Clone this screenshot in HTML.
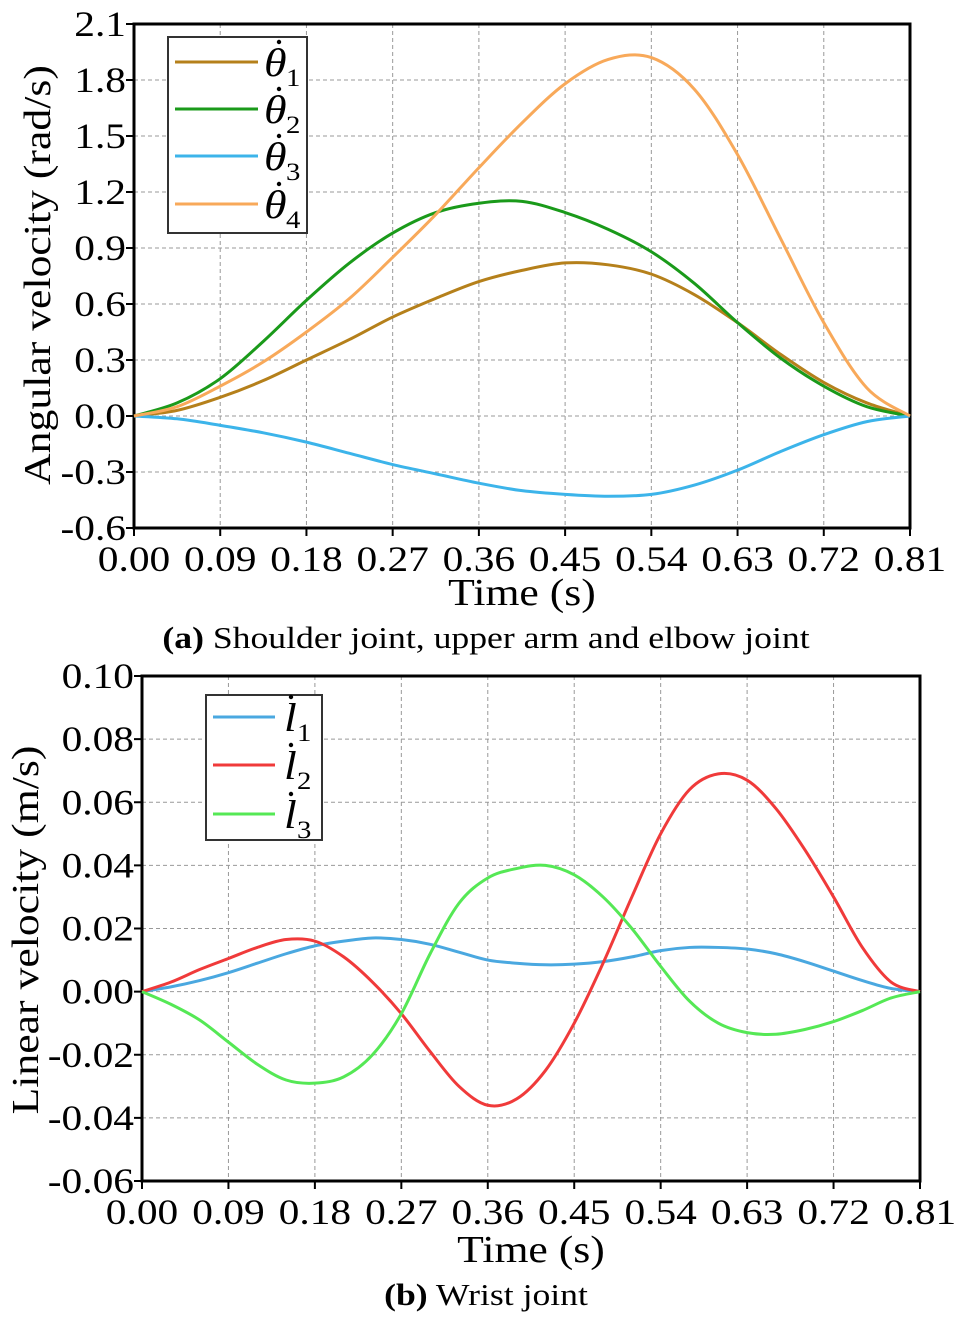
<!DOCTYPE html>
<html><head><meta charset="utf-8"><style>
body{margin:0;background:#fff;}
svg{display:block;font-family:"Liberation Serif",serif;}
</style></head><body>
<svg id="s" width="968" height="1321" viewBox="0 0 968 1321"></svg>
<script>
const timeTicks=["0.00","0.09","0.18","0.27","0.36","0.45","0.54","0.63","0.72","0.81"];
const aYTicks=["-0.6","-0.3","0.0","0.3","0.6","0.9","1.2","1.5","1.8","2.1"];
const bYTicks=["-0.06","-0.04","-0.02","0.00","0.02","0.04","0.06","0.08","0.10"];
const aT=[0,.045,.09,.135,.18,.225,.27,.315,.36,.405,.45,.495,.54,.585,.63,.675,.72,.765,.81];
const th1V=[0,.03,.1,.19,.3,.41,.53,.63,.72,.78,.82,.81,.76,.65,.5,.33,.18,.07,0];
const th2V=[0,.07,.2,.4,.62,.82,.98,1.09,1.14,1.15,1.09,1.0,.88,.71,.5,.31,.16,.05,0];
const th3V=[0,-.015,-.05,-.09,-.14,-.2,-.26,-.31,-.36,-.40,-.42,-.43,-.42,-.37,-.29,-.19,-.1,-.03,0];
const th4V=[0,.05,.16,.29,.45,.63,.85,1.08,1.33,1.57,1.78,1.91,1.92,1.75,1.4,.95,.5,.15,0];
const bT=[0,.03,.06,.09,.12,.15,.18,.21,.24,.27,.30,.33,.36,.39,.42,.45,.48,.51,.54,.57,.60,.63,.66,.69,.72,.75,.78,.81];
const l1V=[0,.0015,.0035,.006,.009,.012,.0145,.016,.017,.0165,.015,.0125,.01,.009,.0085,.0087,.0095,.011,.013,.014,.014,.0135,.012,.0095,.0065,.0035,.001,0];
const l2V=[0,.003,.007,.0105,.014,.0165,.016,.011,.003,-.007,-.019,-.03,-.036,-.034,-.025,-.01,.009,.03,.05,.064,.069,.067,.058,.045,.03,.014,.003,0];
const l3V=[0,-.004,-.009,-.016,-.023,-.028,-.029,-.027,-.02,-.007,.012,.028,.036,.039,.040,.037,.03,.02,.008,-.003,-.010,-.013,-.0135,-.012,-.0095,-.006,-.002,0];

const NS="http://www.w3.org/2000/svg";
const svg=document.getElementById('s');
const SX=1.15;
function mk(tag,attrs,parent){const e=document.createElementNS(NS,tag);for(const k in attrs)e.setAttribute(k,attrs[k]);(parent||svg).appendChild(e);return e;}
function txt(x,y,attrs,parent){return mk('text',Object.assign({x:0,y:0,transform:`translate(${x},${y}) scale(${SX},1)`},attrs),parent);}
function smooth(pts){let d=`M${pts[0][0]},${pts[0][1]}`;for(let i=0;i<pts.length-1;i++){const p0=pts[i-1]||pts[i],p1=pts[i],p2=pts[i+1],p3=pts[i+2]||p2;
const c1=[p1[0]+(p2[0]-p0[0])/6,p1[1]+(p2[1]-p0[1])/6],c2=[p2[0]-(p3[0]-p1[0])/6,p2[1]-(p3[1]-p1[1])/6];d+=`C${c1[0]},${c1[1]} ${c2[0]},${c2[1]} ${p2[0]},${p2[1]}`;}return d;}

function chart(cfg){
 const g=mk('g',{});
 
 
 const {x0,x1,y0,y1,ymin,ymax}=cfg;
 const X=t=>x0+(t-0)/(0.81)*(x1-x0);
 const Y=v=>y1-(v-ymin)/(ymax-ymin)*(y1-y0);
 timeTicks.forEach((lab,i)=>{const x=X(+lab);
  if(i>0&&i<timeTicks.length-1){const l=mk('line',{x1:x,x2:x,y1:y0,y2:y1,stroke:'#999','stroke-dasharray':'4,3','stroke-width':1},g);}
  mk('line',{x1:x,x2:x,y1:y1,y2:y1+8,stroke:'#000','stroke-width':2},g);
  const t=txt(x,y1+43,{'text-anchor':'middle','font-size':36},g);t.textContent=lab;
  
 });
 cfg.yt.forEach((lab,i)=>{const y=Y(+lab);
  if(i>0&&i<cfg.yt.length-1){const l=mk('line',{x1:x0,x2:x1,y1:y,y2:y,stroke:'#999','stroke-dasharray':'4,3','stroke-width':1},g);}
  mk('line',{x1:x0-8,x2:x0,y1:y,y2:y,stroke:'#000','stroke-width':2},g);
  const t=txt(x0-8,y+12,{'text-anchor':'end','font-size':36},g);t.textContent=lab;
  
 });
 const fr=mk('rect',{x:x0,y:y0,width:x1-x0,height:y1-y0,fill:'none',stroke:'#000','stroke-width':3},g);
 
 cfg.series.forEach(s=>{const pts=s.t.map((t,i)=>[X(t),Y(s.v[i])]);
  const p=mk('path',{d:smooth(pts),fill:'none',stroke:s.c,'stroke-width':3},g);
  });
 const xt=txt((x0+x1)/2,cfg.xtY,{'text-anchor':'middle','font-size':38},g);xt.textContent='Time (s)';
 
 const yt=mk('text',{x:0,y:0,transform:`translate(${cfg.ytX},${cfg.ytY}) rotate(-90) scale(${SX},1)`,'text-anchor':'middle','font-size':38},g);yt.textContent=cfg.ytitle;
 
 const cap=txt(cfg.capX,cfg.capY,{'text-anchor':'middle','font-size':31},g);
 const b=mk('tspan',{'font-weight':'bold'},cap);b.textContent=cfg.capB;
 const r=mk('tspan',{},cap);r.textContent=cfg.capR;
 
 const L=cfg.leg;
 const lg=mk('g',{},g);
 mk('rect',{x:L.x,y:L.y,width:L.w,height:L.h,fill:'#fff',stroke:'#333','stroke-width':2},lg);
 cfg.series.forEach((s,i)=>{const y=L.ly[i];
  const e=mk('g',{},lg);
  mk('line',{x1:L.lx0,x2:L.lx1,y1:y,y2:y,stroke:s.c,'stroke-width':3},e);
  const t=txt(L.tx,y+14,{'font-size':40,'font-style':'italic'},e);t.textContent=L.sym;
  mk('circle',{cx:L.tx+L.dotdx,cy:y-20,r:2.2,fill:'#000'},e);
  const sub=txt(L.tx+L.subdx,y+24,{'font-size':25},e);sub.textContent=String(i+1);
 });
}
chart({name:'chart-a',x0:134,x1:910,y0:24,y1:528,ymin:-0.6,ymax:2.1,yt:aYTicks,xtY:605,ytX:50,ytY:275,ytitle:'Angular velocity (rad/s)',
 capX:486,capY:648,capB:'(a)',capR:' Shoulder joint, upper arm and elbow joint',
 series:[{n:'theta1',t:aT,v:th1V,c:'#b5801b'},{n:'theta2',t:aT,v:th2V,c:'#1a9a1a'},{n:'theta3',t:aT,v:th3V,c:'#3cb4ea'},{n:'theta4',t:aT,v:th4V,c:'#f8a95a'}],
 leg:{x:168,y:37,w:139,h:196,ly:[62,109,156,204],lx0:175,lx1:258,tx:264,sym:'θ',dotdx:15,subdx:22}});
chart({name:'chart-b',x0:142,x1:920,y0:676,y1:1181,ymin:-0.06,ymax:0.10,yt:bYTicks,xtY:1262,ytX:38,ytY:930,ytitle:'Linear velocity (m/s)',
 capX:486,capY:1305,capB:'(b)',capR:' Wrist joint',
 series:[{n:'l1',t:bT,v:l1V,c:'#4aa8e0'},{n:'l2',t:bT,v:l2V,c:'#f03a3a'},{n:'l3',t:bT,v:l3V,c:'#55e855'}],
 leg:{x:206,y:695,w:116,h:145,ly:[717,765,814],lx0:213,lx1:275,tx:284,sym:'l',dotdx:7,subdx:13}});
</script>
</body></html>
